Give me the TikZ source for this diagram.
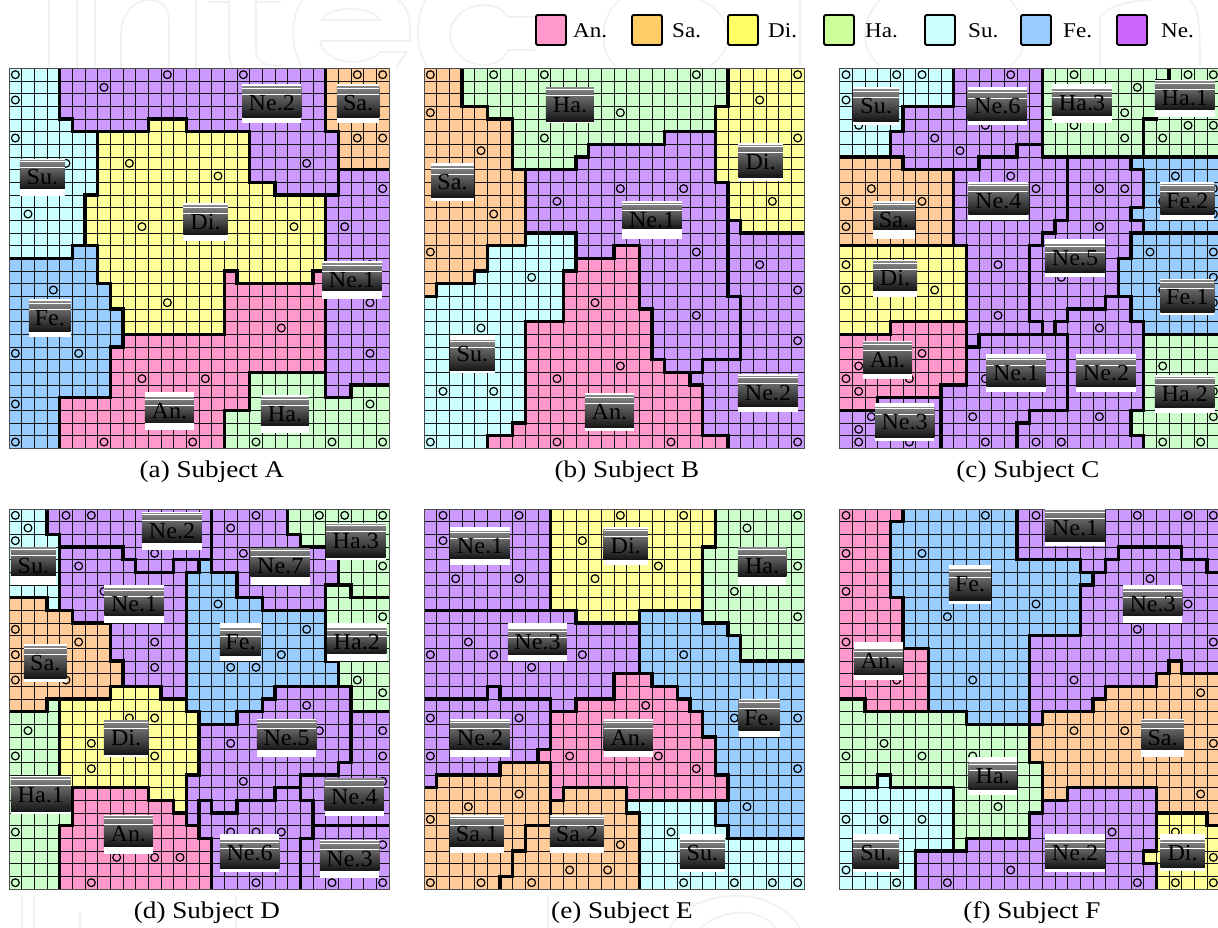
\documentclass[tikz,border=0pt]{standalone}
\usepackage{fontspec}
\setmainfont{Liberation Serif}
\definecolor{cAn}{HTML}{FF99CC}
\definecolor{cSa}{HTML}{FFCC99}
\definecolor{cDi}{HTML}{FFFF99}
\definecolor{cHa}{HTML}{CCFFCC}
\definecolor{cSu}{HTML}{CCFFFF}
\definecolor{cFe}{HTML}{99CCFF}
\definecolor{cNe}{HTML}{CC99FF}
\definecolor{lAn}{HTML}{FF99CC}
\definecolor{lSa}{HTML}{FFCC66}
\definecolor{lDi}{HTML}{FFFF66}
\definecolor{lHa}{HTML}{CCFF99}
\definecolor{lSu}{HTML}{CCFFFF}
\definecolor{lFe}{HTML}{99CCFF}
\definecolor{lNe}{HTML}{CC66FF}
\definecolor{wm}{HTML}{F1F1F1}
\tikzset{
  gridl/.style={draw=black!92,line width=.9pt},
  bord/.style={draw=black,line width=3.3pt,miter limit=2},
  dot/.style={draw=black,line width=1.2pt},
  frame/.style={draw=black!70,line width=1pt},
  labtext/.style={inner sep=0pt,text=black,font=\fontsize{23}{23}\selectfont},
  swatch/.style={draw=black,line width=1.8pt,rounded corners=1.5pt,minimum size=30pt,inner sep=0pt},
  legtext/.style={anchor=west,inner sep=0pt,font=\fontsize{21}{21}\selectfont},
  captext/.style={inner sep=0pt,font=\fontsize{24}{24}\selectfont},
  wmark/.style={draw=wm,line width=1.6pt}
}
\newcommand\sx[1]{\scalebox{1.13}[1]{#1}}
\newcounter{labc}
\newcommand\lab[7]{%
  \stepcounter{labc}%
  \fill[white] (#1,#2) rectangle (#3,#4);
  \shade[top color=black!48,bottom color=black!92] (#1,{#2+#6}) rectangle (#3,{#4-#7});
  \draw[white,line width=.7pt] (#1,{#2+#6+(#4-#2)*.2}) -- (#3,{#2+#6+(#4-#2)*.2});
  \draw[white,line width=.6pt] (#1,{#2+#6+4}) -- (#3,{#2+#6+4});
  \node[labtext] (L\thelabc) at ({(#1+#3)/2},{(#2+#4)/2}) {\scalebox{1.05}[1]{#5}};
}
\newcommand\panel[4]{%
  \begin{scope}[shift={(#1,#2)},x=12.667pt,y=-12.667pt]
    \begin{scope}
      \clip (0,0) rectangle (30,30);
      \def\reg##1##2{\fill[##1] plot coordinates {##2} -- cycle;}
      #3
      \foreach \k in {0,...,30} {\draw[gridl] (\k,0) -- (\k,30); \draw[gridl] (0,\k) -- (30,\k);}
      \def\reg##1##2{\draw[bord] plot coordinates {##2} -- cycle;}
      #3
      \foreach \cc/\rr in {#4} {\draw[dot] (\cc+.5,\rr+.5) circle[radius=3.9pt];}
    \end{scope}
    \draw[frame] (0,0) rectangle (30,30);
  \end{scope}
}
\begin{document}
\begin{tikzpicture}[x=1pt,y=-1pt]
\useasboundingbox (0,0) rectangle (1218,928);
\fill[white] (0,0) rectangle (1218,928);
% watermark
\draw[wmark] (49,0) -- (49,68) (77,0) -- (77,68) (95,0) -- (95,68);
\draw[wmark] (121,68) -- (121,35) .. controls (121,12) and (135,0) .. (150,0) .. controls (162,0) and (169,8) .. (169,22) -- (169,68);
\draw[wmark] (196,0) -- (196,68) (229,0) -- (229,55) -- (232,68) (256,0) -- (256,50) .. controls (256,62) and (264,66) .. (281,66);
\draw[wmark] (208,2) -- (229,2) (256,2) -- (281,2);
\draw[wmark] (303,0) .. controls (290,15) and (290,50) .. (303,68);
\draw[wmark] (322,20) .. controls (330,5) and (370,5) .. (380,20) -- cycle;
\draw[wmark] (320,41) -- (410,41) -- (410,25) .. controls (410,15) and (405,5) .. (398,0);
\draw[wmark] (320,41) .. controls (325,65) and (365,68) .. (380,52) -- (407,52) -- (396,68);
\draw[wmark] (425,0) .. controls (415,20) and (415,50) .. (428,68);
\draw[wmark] (535,50) -- (508,50) .. controls (500,72) and (455,72) .. (450,35) .. controls (450,5) and (495,-5) .. (508,17) -- (535,17);
\draw[wmark] (620,0) .. controls (600,15) and (598,50) .. (615,66);
\draw[wmark] (700,0) .. controls (735,15) and (735,50) .. (710,66) (800,0) -- (800,66) (880,0) .. controls (860,20) and (860,50) .. (880,66) (1010,0) .. controls (1030,20) and (1030,50) .. (1010,66) (1100,66) -- (1100,20) .. controls (1100,8) and (1130,0) .. (1150,0) (1190,0) .. controls (1200,10) and (1200,30) .. (1200,66);
\draw[wmark] (22,896) -- (22,928) (34,896) -- (34,928) (236,896) -- (236,928) (80,928) -- (80,912) (548,896) -- (548,928);
\draw[wmark] (670,928) .. controls (690,890) and (770,880) .. (800,928) (700,928) .. controls (720,910) and (760,905) .. (775,928);
% legend
\foreach \nm/\cl/\xx/\tx/\lx in {a/lAn/551/An./573,b/lSa/647/Sa./672,c/lDi/743/Di./768,d/lHa/839/Ha./865,e/lSu/940/Su./968,f/lFe/1036/Fe./1063,g/lNe/1132/Ne./1161} {
  \node[swatch,fill=\cl] (sw\nm) at (\xx,30) {};
  \node[legtext] (tx\nm) at (\lx,31) {\scalebox{1.1}[1]{\tx}};
}
% panel a
\panel{9}{68.33}{%
\reg{cSu}{(-1,-1)(4,-1)(4,4)(5,4)(5,5)(7,5)(7,10)(6,10)(6,14)(5,14)(5,15)(-1,15)}
\reg{cFe}{(-1,15)(5,15)(5,14)(7,14)(7,17)(8,17)(8,19)(9,19)(9,22)(8,22)(8,26)(4,26)(4,31)(-1,31)}
\reg{cNe}{(4,-1)(25,-1)(25,5)(26,5)(26,10)(21,10)(21,9)(19,9)(19,5)(14,5)(14,4)(11,4)(11,5)(5,5)(5,4)(4,4)}
\reg{cSa}{(25,-1)(31,-1)(31,8)(26,8)(26,5)(25,5)}
\reg{cNe}{(26,8)(31,8)(31,25)(27,25)(27,26)(25,26)(25,10)(26,10)}
\reg{cDi}{(7,5)(11,5)(11,4)(14,4)(14,5)(19,5)(19,9)(21,9)(21,10)(25,10)(25,16)(24,16)(24,17)(18,17)(18,16)(17,16)(17,21)(9,21)(9,19)(8,19)(8,17)(7,17)(7,14)(6,14)(6,10)(7,10)}
\reg{cAn}{(17,16)(18,16)(18,17)(24,17)(24,16)(25,16)(25,24)(19,24)(19,27)(17,27)(17,31)(4,31)(4,26)(8,26)(8,22)(9,22)(9,21)(17,21)}
\reg{cHa}{(19,24)(25,24)(25,26)(27,26)(27,25)(31,25)(31,31)(17,31)(17,27)(19,27)}
}{0/0,0/2,0/5,4/7,1/11,3/17,0/22,5/22,0/26,0/29,7/1,12/0,18/0,27/0,29/0,27/5,29/5,23/7,29/9,26/12,9/7,16/8,10/12,22/12,12/18,28/18,28/15,21/20,28/22,10/24,15/24,7/29,14/29,19/29,25/29,29/29,28/26}
% panel b
\panel{424}{68.33}{%
\reg{cSa}{(-1,-1)(3,-1)(3,3)(5,3)(5,4)(7,4)(7,8)(8,8)(8,14)(5,14)(5,16)(4,16)(4,17)(1,17)(1,18)(-1,18)}
\reg{cSu}{(8,13)(12,13)(12,16)(11,16)(11,20)(8,20)(8,28)(7,28)(7,29)(5,29)(5,31)(-1,31)(-1,18)(1,18)(1,17)(4,17)(4,16)(5,16)(5,14)(8,14)}
\reg{cHa}{(3,-1)(24,-1)(24,3)(23,3)(23,5)(19,5)(19,6)(13,6)(13,7)(12,7)(12,8)(7,8)(7,4)(5,4)(5,3)(3,3)}
\reg{cDi}{(24,-1)(31,-1)(31,13)(25,13)(25,12)(24,12)(24,9)(23,9)(23,3)(24,3)}
\reg{cAn}{(15,14)(17,14)(17,19)(18,19)(18,23)(19,23)(19,24)(21,24)(21,25)(22,25)(22,29)(24,29)(24,31)(5,31)(5,29)(7,29)(7,28)(8,28)(8,20)(11,20)(11,16)(12,16)(12,15)(15,15)}
\reg{cNe}{(8,8)(12,8)(12,7)(13,7)(13,6)(19,6)(19,5)(23,5)(23,9)(24,9)(24,18)(25,18)(25,23)(22,23)(22,24)(19,24)(19,23)(18,23)(18,19)(17,19)(17,14)(15,14)(15,15)(12,15)(12,13)(8,13)}
\reg{cNe}{(25,13)(31,13)(31,31)(24,31)(24,29)(22,29)(22,25)(21,25)(21,24)(22,24)(22,23)(25,23)(25,18)(24,18)(24,12)(25,12)}
}{0/0,0/3,4/6,5/11,0/14,5/0,9/0,21/0,29/0,26/2,15/3,9/5,29/5,15/9,20/9,10/10,27/10,21/14,26/15,29/17,8/16,13/18,21/19,29/21,4/20,15/23,10/24,1/25,5/25,0/29,10/29,19/29,29/29}
% panel c
\panel{839.67}{68.33}{%
\reg{cSu}{(-1,-1)(9,-1)(9,3)(5,3)(5,5)(4,5)(4,7)(-1,7)}
\reg{cNe}{(9,-1)(16,-1)(16,6)(14,6)(14,7)(11,7)(11,8)(5,8)(5,7)(4,7)(4,5)(5,5)(5,3)(9,3)}
\reg{cHa}{(16,-1)(26,-1)(26,1)(25,1)(25,4)(24,4)(24,7)(16,7)}
\reg{cHa}{(26,-1)(31,-1)(31,7)(24,7)(24,4)(25,4)(25,1)(26,1)}
\reg{cSa}{(-1,7)(5,7)(5,8)(9,8)(9,14)(-1,14)}
\reg{cDi}{(-1,14)(10,14)(10,20)(4,20)(4,21)(-1,21)}
\reg{cAn}{(-1,21)(4,21)(4,20)(10,20)(10,25)(8,25)(8,26)(3,26)(3,27)(-1,27)}
\reg{cNe}{(-1,27)(3,27)(3,26)(8,26)(8,31)(-1,31)}
\reg{cNe}{(8,25)(10,25)(10,22)(11,22)(11,21)(18,21)(18,27)(15,27)(15,28)(14,28)(14,31)(8,31)}
\reg{cNe}{(17,21)(17,20)(18,20)(18,19)(21,19)(21,18)(23,18)(23,20)(24,20)(24,27)(23,27)(23,29)(24,29)(24,31)(14,31)(14,28)(15,28)(15,27)(18,27)(18,21)}
\reg{cNe}{(18,7)(23,7)(23,8)(24,8)(24,11)(23,11)(23,12)(24,12)(24,13)(23,13)(23,15)(22,15)(22,18)(21,18)(21,19)(18,19)(18,20)(17,20)(17,21)(16,21)(16,20)(15,20)(15,14)(16,14)(16,13)(17,13)(17,12)(18,12)}
\reg{cNe}{(5,8)(11,8)(11,7)(14,7)(14,6)(16,6)(16,7)(18,7)(18,12)(17,12)(17,13)(16,13)(16,14)(15,14)(15,20)(16,20)(16,21)(11,21)(11,22)(10,22)(10,14)(9,14)(9,8)}
\reg{cFe}{(23,7)(31,7)(31,13)(24,13)(24,12)(23,12)(23,11)(24,11)(24,8)(23,8)}
\reg{cFe}{(23,13)(31,13)(31,21)(24,21)(24,20)(23,20)(23,18)(22,18)(22,15)(23,15)}
\reg{cHa}{(24,21)(31,21)(31,31)(24,31)(24,29)(23,29)(23,27)(24,27)}
}{0/0,4/0,6/0,13/0,18/0,27/0,29/0,0/2,23/1,22/3,1/4,11/4,18/4,27/4,29/4,7/5,22/5,25/5,9/6,13/8,26/8,2/9,15/9,20/9,22/9,29/9,0/10,6/10,25/10,29/11,0/12,20/12,0/15,12/15,24/14,29/14,17/16,29/16,0/17,7/17,25/17,29/18,12/19,20/20,6/22,1/23,25/23,0/24,5/24,11/24,1/25,29/25,2/27,10/27,20/27,29/27,1/28,1/29,5/29,11/29,15/29,17/29,25/29,28/29}
% panel d
\panel{9}{509}{%
\reg{cSu}{(-1,-1)(3,-1)(3,2)(4,2)(4,8)(3,8)(3,7)(-1,7)}
\reg{cSa}{(-1,7)(3,7)(3,8)(5,8)(5,9)(8,9)(8,12)(9,12)(9,14)(8,14)(8,15)(3,15)(3,16)(-1,16)}
\reg{cHa}{(-1,16)(3,16)(3,15)(4,15)(4,22)(5,22)(5,25)(4,25)(4,31)(-1,31)}
\reg{cDi}{(4,15)(8,15)(8,14)(12,14)(12,15)(14,15)(14,16)(15,16)(15,21)(14,21)(14,24)(13,24)(13,23)(11,23)(11,22)(4,22)}
\reg{cAn}{(5,22)(11,22)(11,23)(13,23)(13,24)(14,24)(14,25)(15,25)(15,26)(16,26)(16,31)(4,31)(4,25)(5,25)}
\reg{cNe}{(4,3)(9,3)(9,4)(10,4)(10,5)(13,5)(13,4)(15,4)(15,5)(14,5)(14,15)(12,15)(12,14)(9,14)(9,12)(8,12)(8,9)(5,9)(5,8)(4,8)}
\reg{cNe}{(3,-1)(16,-1)(16,4)(13,4)(13,5)(10,5)(10,4)(9,4)(9,3)(4,3)(4,2)(3,2)}
\reg{cFe}{(14,5)(15,5)(15,4)(16,4)(16,5)(18,5)(18,7)(20,7)(20,8)(25,8)(25,12)(26,12)(26,14)(21,14)(21,15)(20,15)(20,16)(18,16)(18,17)(15,17)(15,16)(14,16)}
\reg{cNe}{(16,-1)(22,-1)(22,2)(23,2)(23,3)(26,3)(26,6)(25,6)(25,8)(20,8)(20,7)(18,7)(18,5)(16,5)}
\reg{cHa}{(22,-1)(31,-1)(31,7)(27,7)(27,6)(26,6)(26,3)(23,3)(23,2)(22,2)}
\reg{cHa}{(25,6)(27,6)(27,7)(31,7)(31,16)(27,16)(27,14)(26,14)(26,12)(25,12)}
\reg{cNe}{(15,17)(18,17)(18,16)(20,16)(20,15)(21,15)(21,14)(27,14)(27,20)(26,20)(26,21)(23,21)(23,22)(21,22)(21,23)(18,23)(18,24)(16,24)(16,23)(15,23)(15,25)(14,25)(14,21)(15,21)}
\reg{cNe}{(15,23)(16,23)(16,24)(18,24)(18,23)(21,23)(21,22)(23,22)(23,23)(24,23)(24,26)(23,26)(23,31)(16,31)(16,26)(15,26)}
\reg{cNe}{(27,16)(31,16)(31,25)(24,25)(24,23)(23,23)(23,21)(26,21)(26,20)(27,20)}
\reg{cNe}{(24,25)(31,25)(31,31)(23,31)(23,26)(24,26)}
}{0/0,1/1,0/2,4/0,6/0,19/0,24/0,26/0,29/0,17/1,11/3,18/3,5/4,29/4,16/7,7/6,29/8,0/9,23/9,5/10,11/10,0/11,21/11,11/12,17/12,19/12,0/13,4/13,27/13,29/14,23/15,9/16,11/16,1/17,24/17,29/17,6/18,17/18,0/19,11/19,29/19,6/20,18/21,29/21,0/25,17/25,19/25,21/25,29/26,8/27,11/27,13/27,6/29,0/29,19/29,25/29,29/29}
% panel e
\panel{424}{509}{%
\reg{cNe}{(-1,-1)(10,-1)(10,8)(-1,8)}
\reg{cDi}{(10,-1)(23,-1)(23,3)(22,3)(22,8)(17,8)(17,9)(12,9)(12,8)(10,8)}
\reg{cHa}{(23,-1)(31,-1)(31,12)(25,12)(25,10)(24,10)(24,9)(22,9)(22,3)(23,3)}
\reg{cNe}{(-1,8)(12,8)(12,9)(17,9)(17,13)(15,13)(15,15)(12,15)(12,16)(10,16)(10,15)(6,15)(6,14)(5,14)(5,15)(-1,15)}
\reg{cNe}{(-1,15)(5,15)(5,14)(6,14)(6,15)(10,15)(10,19)(9,19)(9,20)(6,20)(6,21)(1,21)(1,22)(-1,22)}
\reg{cSa}{(-1,22)(1,22)(1,21)(6,21)(6,20)(10,20)(10,25)(8,25)(8,27)(7,27)(7,29)(6,29)(6,31)(-1,31)}
\reg{cSa}{(10,23)(11,23)(11,22)(16,22)(16,24)(17,24)(17,31)(6,31)(6,29)(7,29)(7,27)(8,27)(8,25)(10,25)}
\reg{cAn}{(10,16)(12,16)(12,15)(15,15)(15,13)(18,13)(18,14)(20,14)(20,15)(21,15)(21,16)(22,16)(22,18)(23,18)(23,21)(24,21)(24,23)(16,23)(16,22)(11,22)(11,23)(10,23)(10,20)(9,20)(9,19)(10,19)}
\reg{cFe}{(17,8)(22,8)(22,9)(24,9)(24,10)(25,10)(25,12)(31,12)(31,26)(24,26)(24,25)(23,25)(23,23)(24,23)(24,21)(23,21)(23,18)(22,18)(22,16)(21,16)(21,15)(20,15)(20,14)(18,14)(18,13)(17,13)}
\reg{cSu}{(16,23)(23,23)(23,25)(24,25)(24,26)(31,26)(31,31)(17,31)(17,24)(16,24)}
}{1/0,7/0,15/0,20/0,29/0,25/1,1/2,12/2,18/4,29/4,2/5,7/5,13/5,24/6,29/8,3/10,0/11,5/11,12/11,20/11,8/12,17/15,0/16,7/16,24/16,29/16,0/19,11/19,18/19,21/20,29/20,7/22,3/23,25/23,0/24,19/25,15/26,11/28,14/28,0/29,4/29,8/29,20/29,24/29,27/29,29/29}
% panel f
\panel{839.67}{509}{%
\reg{cAn}{(-1,-1)(5,-1)(5,1)(4,1)(4,7)(5,7)(5,11)(7,11)(7,16)(2,16)(2,15)(-1,15)}
\reg{cFe}{(5,-1)(14,-1)(14,4)(19,4)(19,5)(20,5)(20,6)(19,6)(19,10)(15,10)(15,17)(10,17)(10,16)(7,16)(7,11)(5,11)(5,7)(4,7)(4,1)(5,1)}
\reg{cNe}{(14,-1)(31,-1)(31,5)(29,5)(29,4)(27,4)(27,3)(22,3)(22,4)(21,4)(21,5)(19,5)(19,4)(14,4)}
\reg{cNe}{(20,5)(21,5)(21,4)(22,4)(22,3)(27,3)(27,4)(29,4)(29,5)(31,5)(31,13)(27,13)(27,12)(26,12)(26,13)(25,13)(25,14)(21,14)(21,15)(20,15)(20,16)(16,16)(16,17)(15,17)(15,10)(19,10)(19,6)(20,6)}
\reg{cSa}{(15,17)(16,17)(16,16)(20,16)(20,15)(21,15)(21,14)(25,14)(25,13)(26,13)(26,12)(27,12)(27,13)(31,13)(31,25)(29,25)(29,24)(25,24)(25,22)(18,22)(18,23)(16,23)(16,20)(15,20)}
\reg{cNe}{(18,22)(25,22)(25,27)(24,27)(24,28)(25,28)(25,31)(6,31)(6,27)(10,27)(10,26)(15,26)(15,24)(16,24)(16,23)(18,23)}
\reg{cDi}{(25,24)(29,24)(29,25)(31,25)(31,31)(25,31)(25,28)(24,28)(24,27)(25,27)}
\reg{cHa}{(-1,15)(2,15)(2,16)(10,16)(10,17)(15,17)(15,20)(16,20)(16,24)(15,24)(15,26)(10,26)(10,27)(9,27)(9,22)(4,22)(4,21)(3,21)(3,22)(-1,22)}
\reg{cSu}{(-1,22)(3,22)(3,21)(4,21)(4,22)(9,22)(9,27)(6,27)(6,31)(-1,31)}
}{0/0,11/0,15/0,23/0,27/0,29/0,0/3,6/3,24/5,0/6,15/7,27/7,8/8,23/9,0/10,29/10,4/13,10/13,18/13,28/14,18/17,22/17,3/18,29/18,0/19,6/19,10/19,28/22,12/23,0/24,3/24,6/24,26/25,21/25,29/27,0/28,13/28,4/29,8/29,23/29,26/29,29/29}
% labels a
\begin{scope}[shift={(0,60)},x=.3333pt,y=-.3333pt]
\lab{727}{72}{904}{188}{Ne.2}{8}{14}
\lab{1011}{72}{1138}{188}{Sa.}{8}{14}
\lab{60}{297}{195}{407}{Su.}{4}{22}
\lab{550}{430}{683}{542}{Di.}{8}{18}
\lab{967}{604}{1146}{716}{Ne.1}{8}{24}
\lab{87}{718}{212}{830}{Fe.}{8}{16}
\lab{435}{995}{582}{1109}{An.}{18}{20}
\lab{783}{1006}{927}{1118}{Ha.}{8}{20}
\end{scope}
\begin{scope}[shift={(415,60)},x=.3333pt,y=-.3333pt]
\lab{393}{80}{537}{190}{Ha.}{4}{6}
\lab{48}{308}{177}{422}{Sa.}{12}{8}
\lab{622}{424}{801}{536}{Ne.1}{6}{30}
\lab{970}{250}{1104}{362}{Di.}{6}{10}
\lab{105}{825}{240}{938}{Su.}{16}{6}
\lab{969}{943}{1149}{1055}{Ne.2}{6}{16}
\lab{510}{1000}{657}{1113}{An.}{8}{10}
\end{scope}
\begin{scope}[shift={(830,60)},x=.3333pt,y=-.3333pt]
\lab{70}{82}{207}{194}{Su.}{8}{10}
\lab{413}{82}{591}{194}{Ne.6}{10}{12}
\lab{666}{72}{846}{188}{Ha.3}{18}{22}
\lab{975}{60}{1154}{170}{Ha.1}{6}{22}
\lab{415}{367}{595}{479}{Ne.4}{6}{16}
\lab{991}{367}{1153}{479}{Fe.2}{6}{16}
\lab{129}{424}{255}{536}{Sa.}{6}{28}
\lab{645}{538}{825}{650}{Ne.5}{16}{12}
\lab{129}{600}{261}{710}{Di.}{6}{18}
\lab{991}{656}{1153}{766}{Fe.1}{6}{8}
\lab{99}{842}{246}{956}{An.}{6}{14}
\lab{469}{883}{648}{995}{Ne.1}{12}{14}
\lab{738}{883}{918}{995}{Ne.2}{12}{14}
\lab{975}{946}{1154}{1058}{Ha.2}{6}{14}
\lab{135}{1030}{313}{1142}{Ne.3}{12}{10}
\end{scope}
\begin{scope}[shift={(0,500)},x=.3333pt,y=-.3333pt]
\lab{426}{35}{606}{149}{Ne.2}{4}{22}
\lab{33}{140}{168}{254}{Su.}{4}{28}
\lab{978}{68}{1157}{180}{Ha.3}{4}{8}
\lab{752}{143}{930}{255}{Ne.7}{4}{24}
\lab{313}{255}{492}{368}{Ne.1}{12}{20}
\lab{660}{370}{783}{482}{Fe.}{16}{16}
\lab{981}{370}{1160}{484}{Ha.2}{16}{22}
\lab{72}{431}{200}{545}{Sa.}{10}{10}
\lab{312}{659}{445}{772}{Di.}{4}{8}
\lab{771}{658}{949}{770}{Ne.5}{4}{20}
\lab{33}{829}{212}{943}{Ha.1}{4}{8}
\lab{974}{833}{1152}{947}{Ne.4}{4}{14}
\lab{312}{946}{459}{1061}{An.}{4}{22}
\lab{660}{1002}{838}{1115}{Ne.6}{20}{10}
\lab{960}{1021}{1138}{1135}{Ne.3}{4}{22}
\end{scope}
\begin{scope}[shift={(415,500)},x=.3333pt,y=-.3333pt]
\lab{105}{82}{285}{194}{Ne.1}{12}{18}
\lab{566}{82}{699}{194}{Di.}{6}{16}
\lab{969}{140}{1114}{254}{Ha.}{4}{24}
\lab{279}{370}{456}{482}{Ne.3}{20}{18}
\lab{971}{598}{1095}{712}{Fe.}{4}{20}
\lab{566}{658}{714}{770}{An.}{6}{18}
\lab{105}{658}{285}{770}{Ne.2}{6}{20}
\lab{105}{946}{267}{1060}{Sa.1}{6}{20}
\lab{405}{946}{567}{1060}{Sa.2}{6}{20}
\lab{795}{1002}{930}{1115}{Su.}{20}{10}
\end{scope}
\begin{scope}[shift={(830,500)},x=.3333pt,y=-.3333pt]
\lab{645}{28}{825}{138}{Ne.1}{4}{14}
\lab{357}{196}{483}{311}{Fe.}{14}{10}
\lab{879}{255}{1057}{368}{Ne.3}{14}{20}
\lab{72}{427}{219}{539}{An.}{22}{14}
\lab{934}{658}{1062}{770}{Sa.}{4}{20}
\lab{416}{771}{561}{884}{Ha.}{18}{14}
\lab{70}{1002}{207}{1115}{Su.}{20}{10}
\lab{645}{1002}{825}{1115}{Ne.2}{20}{10}
\lab{991}{1002}{1125}{1114}{Di.}{20}{10}
\end{scope}
% captions
\node[captext] (capa) at (212,472) {\sx{(a) Subject A}};
\node[captext] (capb) at (627,472) {\sx{(b) Subject B}};
\node[captext] (capc) at (1028,472) {\sx{(c) Subject C}};
\node[captext] (capd) at (207,913) {\sx{(d) Subject D}};
\node[captext] (cape) at (622,913) {\sx{(e) Subject E}};
\node[captext] (capf) at (1032,913) {\sx{(f) Subject F}};
\end{tikzpicture}
\end{document}
